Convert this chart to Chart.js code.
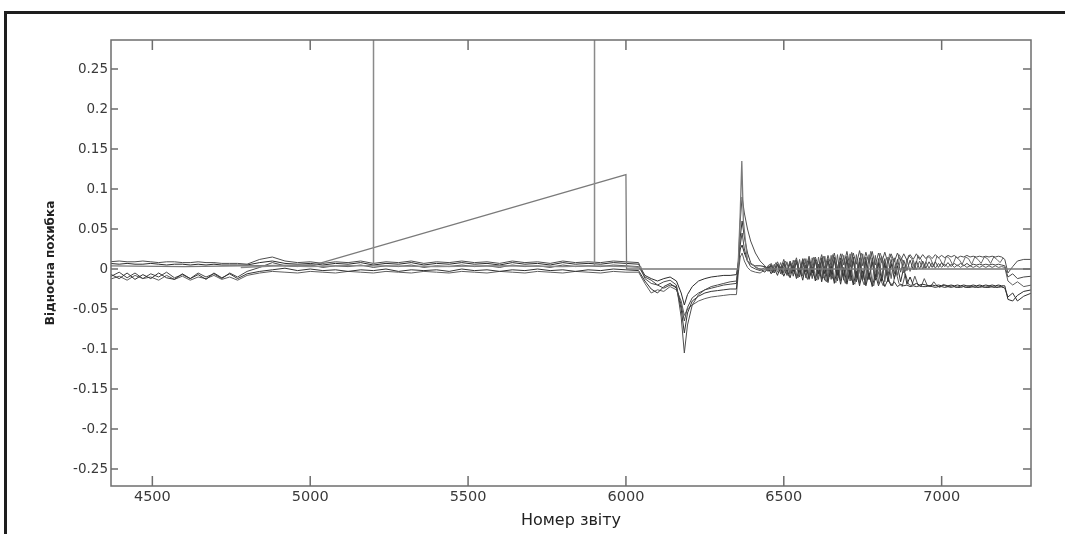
<!DOCTYPE html>
<html><head><meta charset="utf-8">
<script src="https://cdn.jsdelivr.net/npm/chart.js@4.4.1/dist/chart.umd.min.js"></script>
<style>
html,body{margin:0;padding:0;background:#fff;}
#wrap{position:relative;width:1065px;height:534px;overflow:hidden;background:#fff;}
#c{position:absolute;left:0;top:0;}
.frame-top{position:absolute;left:4px;top:11px;width:1061px;height:3px;background:#1e1e1e;}
.frame-left{position:absolute;left:4px;top:11px;width:3px;height:523px;background:#1e1e1e;}
</style></head><body>
<div id="wrap"><canvas id="c" width="1065" height="534"></canvas><div class="frame-top"></div><div class="frame-left"></div></div>
<script>
// ---- axis settings ----
const xTicks = [4500, 5000, 5500, 6000, 6500, 7000];
const yTicks = [-0.25, -0.2, -0.15, -0.1, -0.05, 0, 0.05, 0.1, 0.15, 0.2, 0.25];
const xRange = [4369, 7283];
const yRange = [-0.27125, 0.28625];
const xTitle = 'Номер звіту';
const yTitle = 'Відносна похибка';

// ---- shared report numbers for the dark series ----
const reportNo = [
  4365,4395,4420,4445,4470,4495,4520,4545,4570,4595,4620,4645,4670,4695,4720,4745,4770,
  4800,4840,4880,4920,4960,5000,5040,5080,5120,5160,5200,5240,5280,5320,5360,5400,5440,5480,5520,5560,5600,5640,5680,5720,5760,5800,5840,5880,5920,5960,6000,6040,
  6060,6080,6100,6120,6140,6160,6175,6185,6195,6210,6230,6250,6270,6290,6310,6330,6350,
  6356,6362,6368,6375,6385,6395,6410,6425,
  6440,6450,6460,6470,6480,6490,6500,6510,6520,6530,
  6540,6550,6560,6570,6580,6590,6600,6610,6620,6630,
  6640,6650,6660,6670,6680,6690,6700,6710,6720,6730,
  6740,6750,6760,6770,6780,6790,6800,6810,6820,6830,
  6840,6850,6860,6870,6880,6890,6900,6910,6920,6930,
  6940,6950,6960,6970,6980,6990,7000,7010,7020,7030,
  7040,7050,7060,7070,7080,7090,7100,7110,7120,7130,
  7140,7150,7160,7170,7180,7190,
  7200,7210,7225,7240,7260,7285
];

const error1 = [
  0.009,0.010,0.009,0.009,0.010,0.009,0.008,0.009,0.009,0.008,0.008,0.009,0.008,0.008,0.007,0.007,0.007,
  0.006,0.012,0.015,0.010,0.008,0.009,0.007,0.009,0.008,0.010,0.007,0.009,0.008,0.010,0.007,0.009,0.008,0.010,0.008,0.009,0.007,0.010,0.008,0.009,0.007,0.010,0.008,0.009,0.008,0.010,0.009,0.008,
  -0.012,-0.018,-0.020,-0.016,-0.014,-0.020,-0.060,-0.105,-0.070,-0.045,-0.032,-0.026,-0.022,-0.020,-0.018,-0.016,-0.015,
  0.010,0.060,0.090,0.070,0.050,0.035,0.020,0.010,
  0.004,-0.002,0.007,-0.001,0.009,0.000,0.012,-0.002,0.010,0.001,
  0.014,-0.003,0.013,0.002,0.016,-0.001,0.015,0.003,0.018,0.000,
  0.017,0.004,0.020,0.001,0.019,0.005,0.022,0.002,0.020,0.006,
  0.023,0.004,0.021,0.007,0.022,0.005,0.020,0.008,0.021,0.007,
  0.019,0.009,0.020,0.010,0.019,0.011,0.018,0.012,0.019,0.012,
  0.018,0.013,0.017,0.013,0.018,0.014,0.017,0.014,0.017,0.015,
  0.017,0.014,0.016,0.015,0.017,0.015,0.016,0.015,0.016,0.015,
  0.016,0.015,0.016,0.015,0.016,0.015,
  0.012,-0.005,0.003,0.010,0.012,0.012
];
const error2 = [
  -0.006,-0.012,-0.005,-0.013,-0.007,-0.012,-0.005,-0.011,-0.013,-0.006,-0.012,-0.007,-0.013,-0.005,-0.011,-0.006,-0.012,
  -0.006,-0.003,-0.001,0.001,-0.002,0.000,-0.002,-0.001,-0.003,-0.001,-0.002,0.000,-0.003,-0.001,-0.002,-0.001,-0.003,0.000,-0.002,-0.001,-0.003,-0.001,-0.002,0.000,-0.002,-0.001,-0.003,-0.001,-0.002,0.000,-0.001,-0.002,
  -0.015,-0.025,-0.030,-0.022,-0.018,-0.024,-0.050,-0.080,-0.055,-0.040,-0.034,-0.030,-0.028,-0.027,-0.026,-0.025,-0.025,
  0.005,0.040,0.060,0.040,0.020,0.008,0.002,0.000,
  -0.004,0.002,-0.006,0.001,-0.008,0.003,-0.009,0.000,-0.011,0.004,
  -0.012,0.001,-0.014,0.005,-0.013,0.002,-0.015,0.006,-0.016,0.003,
  -0.017,0.004,-0.018,0.001,-0.019,0.002,-0.019,-0.001,-0.020,-0.003,
  -0.021,-0.002,-0.021,-0.005,-0.022,-0.007,-0.021,-0.010,-0.022,-0.013,
  -0.021,-0.016,-0.022,-0.019,-0.021,-0.020,-0.022,-0.021,-0.022,-0.021,
  -0.022,-0.022,-0.021,-0.022,-0.023,-0.022,-0.022,-0.023,-0.022,-0.023,
  -0.022,-0.023,-0.023,-0.022,-0.023,-0.023,-0.022,-0.023,-0.023,-0.022,
  -0.023,-0.023,-0.022,-0.023,-0.023,-0.022,
  -0.024,-0.035,-0.030,-0.040,-0.034,-0.030
];
const error3 = [
  -0.010,-0.004,-0.011,-0.005,-0.012,-0.006,-0.010,-0.004,-0.011,-0.007,-0.012,-0.005,-0.010,-0.006,-0.012,-0.005,-0.010,
  -0.003,0.002,0.008,0.004,0.003,0.005,0.002,0.004,0.003,0.005,0.002,0.004,0.003,0.005,0.002,0.004,0.003,0.005,0.003,0.004,0.002,0.005,0.003,0.004,0.002,0.005,0.003,0.004,0.003,0.005,0.004,0.003,
  -0.010,-0.014,-0.020,-0.024,-0.020,-0.022,-0.045,-0.065,-0.048,-0.036,-0.030,-0.026,-0.024,-0.022,-0.020,-0.019,-0.018,
  0.000,0.030,0.045,0.025,0.010,0.003,0.000,-0.002,
  0.002,-0.003,0.005,-0.005,0.006,-0.006,0.008,-0.008,0.009,-0.009,
  0.011,-0.010,0.012,-0.011,0.013,-0.012,0.012,-0.013,0.014,-0.014,
  0.013,-0.013,0.015,-0.015,0.014,-0.014,0.016,-0.015,0.015,-0.016,
  0.014,-0.014,0.015,-0.013,0.014,-0.012,0.013,-0.010,0.013,-0.008,
  0.012,-0.006,0.012,-0.004,0.011,-0.002,0.011,-0.001,0.010,0.000,
  0.010,0.001,0.009,0.002,0.009,0.002,0.008,0.003,0.008,0.003,
  0.007,0.004,0.007,0.004,0.007,0.004,0.006,0.005,0.006,0.005,
  0.006,0.005,0.006,0.005,0.006,0.005,
  0.004,-0.010,-0.006,-0.012,-0.010,-0.009
];
const error4 = [
  -0.013,-0.009,-0.014,-0.008,-0.012,-0.010,-0.014,-0.008,-0.013,-0.009,-0.014,-0.010,-0.012,-0.008,-0.013,-0.010,-0.014,
  -0.008,-0.005,-0.003,-0.004,-0.005,-0.003,-0.004,-0.005,-0.003,-0.004,-0.005,-0.003,-0.004,-0.005,-0.003,-0.004,-0.005,-0.003,-0.004,-0.005,-0.003,-0.004,-0.005,-0.003,-0.004,-0.005,-0.003,-0.004,-0.005,-0.003,-0.004,-0.004,
  -0.018,-0.030,-0.026,-0.028,-0.022,-0.026,-0.040,-0.058,-0.050,-0.045,-0.040,-0.037,-0.035,-0.034,-0.033,-0.032,-0.032,
  -0.005,0.015,0.020,0.010,0.002,-0.002,-0.004,-0.005,
  -0.001,0.004,-0.003,0.006,-0.004,0.008,-0.005,0.009,-0.006,0.011,
  -0.008,0.012,-0.009,0.013,-0.010,0.014,-0.011,0.015,-0.012,0.016,
  -0.013,0.017,-0.014,0.018,-0.015,0.017,-0.016,0.019,-0.017,0.018,
  -0.018,0.019,-0.018,0.018,-0.019,0.017,-0.018,0.016,-0.016,0.015,
  -0.012,0.014,-0.008,0.013,-0.005,0.012,-0.003,0.011,-0.001,0.010,
  0.000,0.009,0.001,0.008,0.001,0.007,0.002,0.006,0.002,0.006,
  0.002,0.005,0.002,0.005,0.002,0.004,0.002,0.004,0.002,0.004,
  0.002,0.004,0.002,0.004,0.002,0.003,
  0.002,-0.015,-0.020,-0.016,-0.022,-0.020
];
const error5 = [
  0.007,0.006,0.007,0.006,0.006,0.007,0.006,0.005,0.006,0.006,0.005,0.006,0.005,0.006,0.005,0.005,0.005,
  0.005,0.008,0.010,0.007,0.006,0.007,0.005,0.007,0.006,0.008,0.005,0.007,0.006,0.008,0.005,0.007,0.006,0.008,0.006,0.007,0.005,0.008,0.006,0.007,0.005,0.008,0.006,0.007,0.006,0.008,0.007,0.006,
  -0.008,-0.012,-0.015,-0.012,-0.010,-0.015,-0.030,-0.045,-0.032,-0.022,-0.015,-0.012,-0.010,-0.009,-0.008,-0.008,-0.007,
  0.008,0.025,0.030,0.020,0.010,0.006,0.004,0.004,
  0.003,0.001,0.004,0.000,0.005,-0.001,0.006,-0.002,0.007,-0.003,
  0.008,-0.004,0.009,-0.004,0.010,-0.005,0.010,-0.006,0.011,-0.006,
  0.010,-0.007,0.011,-0.008,0.010,-0.009,0.011,-0.010,0.010,-0.011,
  0.009,-0.012,0.010,-0.013,0.009,-0.014,0.008,-0.015,0.008,-0.016,
  0.007,-0.012,0.004,-0.016,0.002,-0.019,-0.010,-0.020,-0.018,-0.020,
  -0.019,-0.020,-0.021,-0.020,-0.021,-0.020,-0.021,-0.020,-0.021,-0.020,
  -0.021,-0.020,-0.021,-0.020,-0.021,-0.021,-0.020,-0.021,-0.020,-0.021,
  -0.020,-0.021,-0.020,-0.021,-0.020,-0.021,
  -0.021,-0.038,-0.040,-0.033,-0.028,-0.026
];

// ---- two extra noisy series in the 6445..7195 stretch ----
const noiseNo = [
  6445,6455,6465,6475,6485,6495,6505,6515,6525,6535,
  6545,6555,6565,6575,6585,6595,6605,6615,6625,6635,
  6645,6655,6665,6675,6685,6695,6705,6715,6725,6735,
  6745,6755,6765,6775,6785,6795,6805,6815,6825,6835,
  6845,6855,6865,6875,6885,6895,6905,6915,6925,6935,
  6945,6955,6965,6975,6985,6995,7005,7015,7025,7035,
  7045,7055,7065,7075,7085,7095,7105,7115,7125,7135,
  7145,7155,7165,7175,7185,7195
];
const error6 = [
  0.001,0.006,-0.002,0.008,0.003,-0.004,0.010,0.002,-0.005,0.011,
  0.004,-0.007,0.013,0.000,-0.008,0.015,0.006,-0.009,0.016,0.003,
  -0.010,0.018,0.005,-0.011,0.019,0.008,-0.012,0.021,0.004,-0.013,
  0.020,0.009,-0.012,0.022,0.006,-0.010,0.020,0.010,-0.008,0.019,
  0.011,-0.005,0.018,0.012,-0.003,0.017,0.013,-0.001,0.017,0.012,
  0.001,0.016,0.013,0.003,0.016,0.012,0.004,0.016,0.013,0.005,
  0.015,0.012,0.006,0.015,0.013,0.006,0.015,0.012,0.007,0.015,
  0.013,0.007,0.015,0.012,0.008,0.014
];
const error7 = [
  -0.002,0.003,-0.005,0.001,0.004,-0.007,0.002,-0.009,0.005,-0.006,
  -0.011,0.006,-0.004,-0.013,0.007,-0.008,-0.014,0.008,-0.010,-0.016,
  0.006,-0.012,-0.017,0.009,-0.006,-0.018,0.007,-0.014,-0.019,0.005,
  -0.010,-0.020,0.004,-0.015,-0.021,0.002,-0.012,-0.021,0.000,-0.016,
  -0.021,-0.003,-0.018,-0.022,-0.006,-0.019,-0.021,-0.009,-0.020,-0.022,
  -0.012,-0.021,-0.022,-0.016,-0.021,-0.023,-0.019,-0.022,-0.022,-0.021,
  -0.023,-0.022,-0.021,-0.023,-0.022,-0.022,-0.023,-0.021,-0.022,-0.023,
  -0.022,-0.022,-0.023,-0.021,-0.022,-0.023
];

// ---- light grey series with their own report numbers ----
const rampNo    = [4365, 4600, 4780, 5010, 6000, 6002, 6355, 6362, 6367, 6372, 6385, 6420, 7285];
const rampError = [0.004, 0.003, 0.004, 0.005, 0.118, 0.000, 0.000, 0.070, 0.135, 0.060, 0.010, 0.000, 0.000];
const spikeNo    = [4780, 4900, 5000, 5100, 5199, 5200, 5201, 5400, 5600, 5800, 5899, 5900, 5901, 6000, 6050];
const spikeError = [0.002, 0.004, 0.003, 0.004, 0.004, 0.600, 0.004, 0.003, 0.004, 0.003, 0.004, 0.600, 0.004, 0.003, 0.002];

const darkSeries = [error1, error2, error3, error4, error5];
const darkColors = ['#4d4d4d', '#333333', '#474747', '#5e5e5e', '#2b2b2b'];
const noiseSeries = [error6, error7];
const noiseColors = ['#6a6a6a', '#555555'];

darkSeries.forEach((s, i) => {
  if (s.length !== reportNo.length) throw new Error('series ' + (i + 1) + ' length ' + s.length + ' != ' + reportNo.length);
});
noiseSeries.forEach((s, i) => {
  if (s.length !== noiseNo.length) throw new Error('noise ' + (i + 6) + ' length ' + s.length + ' != ' + noiseNo.length);
});

function pts(xs, ys) { return xs.map((x, i) => ({ x: x, y: ys[i] })); }

const datasets = [
  { data: pts(spikeNo, spikeError), borderColor: '#8a8a8a', borderWidth: 1.5 },
  { data: pts(rampNo, rampError), borderColor: '#7a7a7a', borderWidth: 1.3 }
].concat(darkSeries.map((s, i) => ({ data: pts(reportNo, s), borderColor: darkColors[i], borderWidth: 1 })))
 .concat(noiseSeries.map((s, i) => ({ data: pts(noiseNo, s), borderColor: noiseColors[i], borderWidth: 1 })));
datasets.forEach(d => { d.pointRadius = 0; d.tension = 0; d.fill = false; });

const frameBox = {
  id: 'frameBox',
  afterDatasetsDraw(chart) {
    const { ctx, chartArea: a, scales: { x, y } } = chart;
    ctx.save();
    ctx.strokeStyle = '#6e6e6e';
    ctx.lineWidth = 1.5;
    ctx.strokeRect(a.left, a.top, a.right - a.left, a.bottom - a.top);
    ctx.beginPath();
    xTicks.forEach(v => {
      const px = x.getPixelForValue(v);
      ctx.moveTo(px, a.bottom); ctx.lineTo(px, a.bottom - 10);
      ctx.moveTo(px, a.top); ctx.lineTo(px, a.top + 10);
    });
    yTicks.forEach(v => {
      const py = y.getPixelForValue(v);
      ctx.moveTo(a.left, py); ctx.lineTo(a.left + 7, py);
      ctx.moveTo(a.right, py); ctx.lineTo(a.right - 8, py);
    });
    ctx.stroke();
    ctx.restore();
  }
};

new Chart(document.getElementById('c'), {
  type: 'line',
  data: { datasets: datasets },
  plugins: [frameBox],
  options: {
    responsive: false,
    animation: false,
    devicePixelRatio: 1,
    layout: { padding: { left: 0, right: 34, top: 40, bottom: 0 } },
    plugins: { legend: { display: false }, tooltip: { enabled: false } },
    scales: {
      x: {
        type: 'linear', min: xRange[0], max: xRange[1],
        grid: { display: false, drawTicks: false },
        border: { display: false },
        afterBuildTicks: s => { s.ticks = xTicks.map(v => ({ value: v })); },
        afterFit: s => { s.height = 48; },
        ticks: { autoSkip: false, maxRotation: 0, padding: 3, color: '#3a3a3a',
                 font: { family: 'DejaVu Sans', size: 14.5 }, callback: v => String(v) },
        title: { display: true, text: xTitle, color: '#222',
                 font: { family: 'DejaVu Sans', size: 16 }, padding: { top: 0, bottom: 4 } }
      },
      y: {
        type: 'linear', min: yRange[0], max: yRange[1],
        grid: { display: false, drawTicks: false },
        border: { display: false },
        afterBuildTicks: s => { s.ticks = yTicks.map(v => ({ value: v })); },
        afterFit: s => { s.width = 111; },
        ticks: { autoSkip: false, padding: 3, color: '#3a3a3a',
                 font: { family: 'DejaVu Sans', size: 13.5 },
                 callback: v => String(parseFloat(Number(v).toFixed(2))) },
        title: { display: true, text: yTitle, color: '#222',
                 font: { family: 'DejaVu Sans', size: 12, weight: 'bold' }, padding: { top: 44, bottom: 0 } }
      }
    }
  }
});
</script>
</body></html>
